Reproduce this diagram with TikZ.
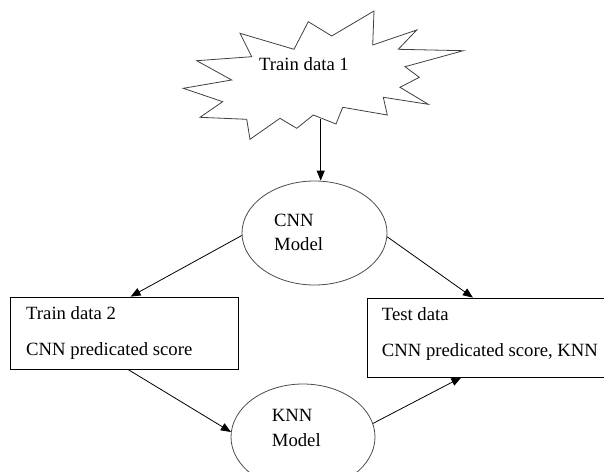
\documentclass[tikz,border=0pt]{standalone}
\usepackage{fontspec}
\setmainfont{Liberation Serif}
\usetikzlibrary{shapes.geometric,arrows.meta}
\begin{document}
\begin{tikzpicture}[x=1pt,y=-1pt,
  burstline/.style={draw=black!75, line width=0.8pt},
  oval/.style={ellipse, draw=black!70, line width=0.8pt, inner sep=0pt},
  boxnode/.style={rectangle, draw=black, line width=0.8pt, inner sep=0pt},
  lbl/.style={font=\fontsize{18.7}{24}\selectfont, inner sep=0pt, anchor=base west},
  conn/.style={draw=black, line width=0.8pt, -{Triangle[length=10pt,width=8pt]}},
]
\useasboundingbox (0,0) rectangle (604,471);
\clip (0,0) rectangle (604,471);

% starburst
\draw[burstline] (240,33.3) -- (294,49.3) -- (308.3,21.7) -- (331.7,36) -- (374,11)
  -- (372.7,45) -- (416.7,30) -- (398.3,49.3) -- (463.3,50.7) -- (405,66.7)
  -- (419.3,77.3) -- (400,87.3) -- (428.3,104.3) -- (383.3,97.3) -- (387.3,115)
  -- (342.7,107.3) -- (336,124) -- (313.3,115) -- (296.7,128.3) -- (280,118.3)
  -- (250,139.3) -- (246.7,119.3) -- (200,117.3) -- (222.7,101.7) -- (183.3,88.3)
  -- (231.7,80) -- (196.7,60.7) -- (251.7,56.7) -- cycle;
\node[font=\fontsize{18.7}{24}\selectfont, inner sep=0pt] (t1) at (304,64.5) {Train data 1};
\coordinate (b1) at (320.7,118.5);

% CNN model
\node[oval, minimum width=145pt, minimum height=104pt] (cnn) at (314.5,233) {};
\node[lbl] (cnnA) at (274,226) {CNN};
\node[lbl] (cnnB) at (274,250) {Model};

% boxes
\node[boxnode, minimum width=227.3pt, minimum height=72pt] (tr2) at (124.35,333) {};
\node[lbl] (tr2A) at (26,319) {Train data 2};
\node[lbl] (tr2B) at (26,355) {CNN predicated score};

\node[boxnode, minimum width=245pt, minimum height=79pt] (test) at (489.8,337.5) {};
\node[lbl] (testA) at (381.7,320.5) {Test data};
\node[lbl] (testB) at (381.7,356) {CNN predicated score, KNN};

% KNN model
\node[oval, minimum width=144pt, minimum height=106pt] (knn) at (303,437) {};
\node[lbl] (knnA) at (271.7,421) {KNN};
\node[lbl] (knnB) at (271.7,446) {Model};

% connectors
\draw[conn] (b1) -- (b1 |- cnn.north);
\draw[conn] (cnn.182) -- ([xshift=120.3pt]tr2.north west);
\draw[conn] (cnn.357) -- ([xshift=106pt]test.north west);
\draw[conn] ([xshift=117.6pt]tr2.south west) -- (knn.176);
\draw[conn] (knn.11) -- ([xshift=94.4pt]test.south west);
\end{tikzpicture}
\end{document}
